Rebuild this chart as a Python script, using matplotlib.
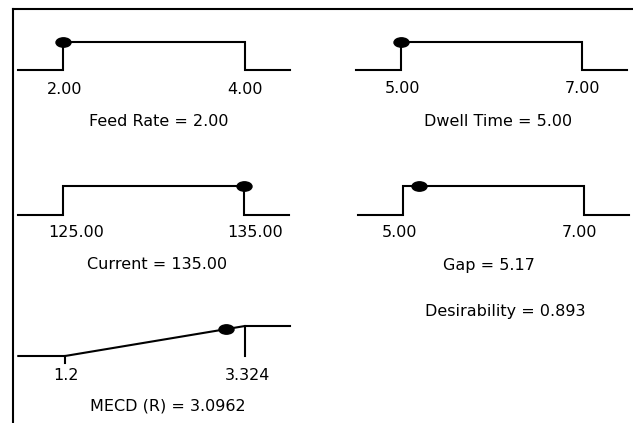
import matplotlib
matplotlib.use("Agg")
import matplotlib.pyplot as plt
from matplotlib.path import Path
from matplotlib.transforms import Affine2D, ScaledTranslation

# ---------------- data ----------------
factor_names = ["Feed Rate", "Dwell Time", "Current", "Gap"]
factor_low = [2.00, 5.00, 125.00, 5.00]
factor_high = [4.00, 7.00, 135.00, 7.00]
factor_value = [2.00, 5.00, 135.00, 5.17]
factor_tick_labels = [["2.00", "4.00"], ["5.00", "7.00"], ["125.00", "135.00"], ["5.00", "7.00"]]
factor_value_labels = ["2.00", "5.00", "135.00", "5.17"]

response_name = "MECD (R)"
response_low = 1.2
response_high = 3.324
response_value = 3.0962
response_tick_labels = ["1.2", "3.324"]
response_value_label = "3.0962"
desirability = 0.893

# ---------------- layout (pixels) ----------------
W, H, DPI = 633, 423, 100
FONT = "DejaVu Sans"
FS = 11.5
LW = 1.5

# (left limit x, right limit x, y of desirability 1, y of desirability 0)
factor_geom = [(63.3, 245.0, 41.7, 70.3),
               (401.0, 581.7, 41.7, 70.3),
               (63.3, 244.3, 186.0, 215.3),
               (403.3, 584.3, 185.7, 215.0)]
response_geom = (65.0, 245.0, 326.0, 356.0)
ext_px = 45.0
label_dx = [[1.7, 0.0], [2.0, 1.0], [12.4, 11.2], [-3.6, -5.0]]
label_base = [94.0, 93.0, 236.5, 237.0]
title_cx = [158.5, 498.0, 157.0, 488.7]
title_base = [125.5, 125.5, 269.0, 270.0]
resp_label_dx = [0.8, 2.0]
resp_label_base = 380.0
resp_title_cx = 168.3
resp_title_base = 410.0
des_cx, des_base = 505.0, 316.0

fig = plt.figure(figsize=(W / DPI, H / DPI), dpi=DPI)
fig.patch.set_facecolor("white")

# frame: left and top lines
fx, fy = 12.5, 9.5
frame = fig.add_axes([fx / W, 0, 1 - fx / W, 1 - fy / H])
frame.set_xticks([]); frame.set_yticks([])
frame.patch.set_visible(False)
for s in ("right", "bottom"):
    frame.spines[s].set_visible(False)
for s in ("left", "top"):
    frame.spines[s].set_linewidth(LW)
    frame.spines[s].set_color("black")

ell = Path.unit_circle().transformed(Affine2D().scale(1.6, 1.0))


def make_axes(geom, lo, hi):
    L, R, yh, yl = geom
    ax = fig.add_axes([L / W, 1 - yl / H, (R - L) / W, (yl - yh) / H])
    ax.set_xlim(lo, hi)
    ax.set_ylim(0, 1)
    ax.axis("off")
    ext = ext_px / (R - L) * (hi - lo)
    return ax, ext


def px_offset(ax, dx, dy):
    return ax.transData + ScaledTranslation(dx / DPI, -dy / DPI, fig.dpi_scale_trans)


for i in range(len(factor_names)):
    lo, hi, val = factor_low[i], factor_high[i], factor_value[i]
    ax, ext = make_axes(factor_geom[i], lo, hi)
    yl = factor_geom[i][3]
    ax.plot([lo - ext, lo, lo, hi, hi, hi + ext], [0, 0, 1, 1, 0, 0],
            color="black", lw=LW, clip_on=False, solid_joinstyle="miter")
    ax.plot([val], [1], marker=ell, markersize=10.8, color="black",
            clip_on=False, zorder=5)
    for j, x in enumerate([lo, hi]):
        ax.text(x, 0, factor_tick_labels[i][j], ha="center", va="baseline",
                family=FONT, fontsize=FS,
                transform=px_offset(ax, label_dx[i][j], label_base[i] - yl))
    fig.text(title_cx[i] / W, 1 - title_base[i] / H,
             f"{factor_names[i]} = {factor_value_labels[i]}",
             ha="center", va="baseline", family=FONT, fontsize=FS)

# response ramp
lo, hi = response_low, response_high
ax, ext = make_axes(response_geom, lo, hi)
L, R, yh, yl = response_geom
ext_left = 46.7 / (R - L) * (hi - lo)
ax.plot([lo - ext_left, lo, hi, hi + ext], [0, 0, 1, 1], color="black",
        lw=LW, clip_on=False)
ax.plot([lo, lo], [0, -7.3 / (yl - yh)], color="black", lw=LW, clip_on=False)
ax.plot([hi, hi], [1, 0], color="black", lw=LW, clip_on=False)
ax.plot([response_value], [desirability], marker=ell, markersize=10.8,
        color="black", clip_on=False, zorder=5)
for j, x in enumerate([lo, hi]):
    ax.text(x, 0, response_tick_labels[j], ha="center", va="baseline",
            family=FONT, fontsize=FS,
            transform=px_offset(ax, resp_label_dx[j], resp_label_base - yl))
fig.text(resp_title_cx / W, 1 - resp_title_base / H,
         f"{response_name} = {response_value_label}",
         ha="center", va="baseline", family=FONT, fontsize=FS)

fig.text(des_cx / W, 1 - des_base / H, f"Desirability = {desirability:.3f}",
         ha="center", va="baseline", family=FONT, fontsize=FS)

fig.savefig("out.png", dpi=DPI, facecolor="white")
